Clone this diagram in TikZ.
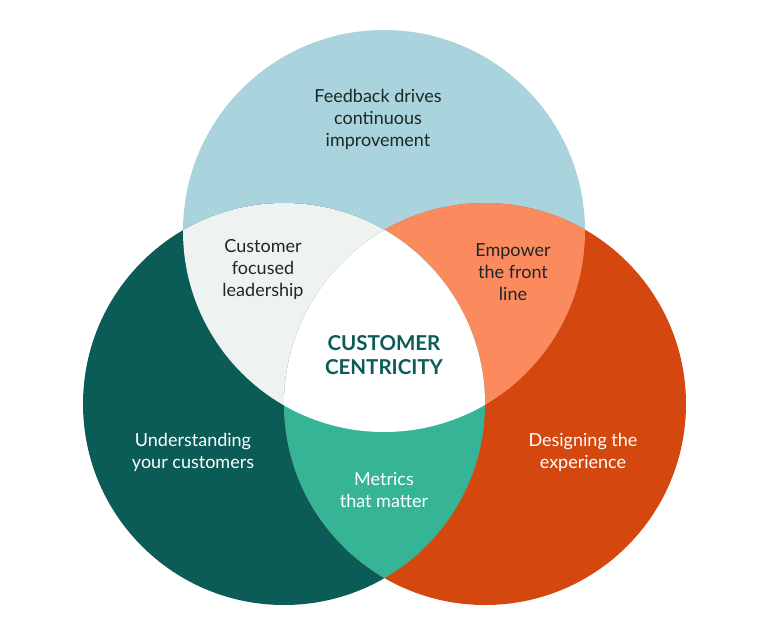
\documentclass[tikz,border=0pt]{standalone}
\usepackage{fontspec}
\setmainfont{Lato}

\definecolor{skyblue}{HTML}{A9D4DD}
\definecolor{deepteal}{HTML}{0B5C56}
\definecolor{rust}{HTML}{D4470F}
\definecolor{paleteal}{HTML}{EEF3F2}
\definecolor{salmon}{HTML}{FB8B5E}
\definecolor{mint}{HTML}{36B596}
\definecolor{ink}{HTML}{1E2726}

\begin{document}
\begin{tikzpicture}[x=1pt,y=-1pt,
  label/.style={align=center,text=ink,font=\fontsize{18}{22}\selectfont},
  whitelabel/.style={label,text=white}]
\useasboundingbox (0,0) rectangle (768,640);
\def\rad{201}
\coordinate (top) at (384,231);
\coordinate (left) at (284,404);
\coordinate (right) at (485,404);

\fill[skyblue] (top) circle[radius=\rad];
\fill[deepteal] (left) circle[radius=\rad];
\fill[rust] (right) circle[radius=\rad];

\begin{scope}
\clip (top) circle[radius=\rad];
\fill[paleteal] (left) circle[radius=\rad];
\fill[salmon] (right) circle[radius=\rad];
\end{scope}
\begin{scope}
\clip (left) circle[radius=\rad];
\fill[mint] (right) circle[radius=\rad];
\end{scope}
\begin{scope}
\clip (top) circle[radius=\rad];
\clip (left) circle[radius=\rad];
\fill[white] (right) circle[radius=\rad];
\end{scope}

\node[label] (feedback) at (378,119) {Feedback drives\\continuous\\improvement};
\node[label] (leadership) at (263,270) {Customer\\focused\\leadership};
\node[label] (frontline) at (513,272) {Empower\\the front\\line};
\node[align=center,text=deepteal,font=\fontsize{20.5}{24}\selectfont\bfseries] (centre) at (384,355) {CUSTOMER\\CENTRICITY};
\node[whitelabel] (understanding) at (193,452) {Understanding\\your customers};
\node[whitelabel] (designing) at (583,452) {Designing the\\experience};
\node[whitelabel] (metrics) at (384,490) {Metrics\\that matter};
\end{tikzpicture}
\end{document}
